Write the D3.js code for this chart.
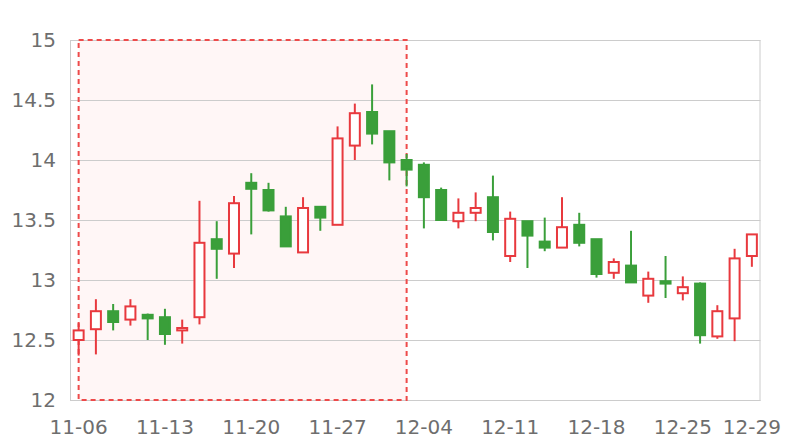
<!DOCTYPE html>
<html>
<head>
<meta charset="utf-8">
<script src="https://cdn.jsdelivr.net/npm/d3@7"></script>
<style>
  body { margin: 0; background: #fff; }
  svg { display: block; }
</style>
</head>
<body>
<svg id="chart" width="800" height="440"></svg>
<script>
const dates = ["11-06","11-07","11-08","11-09","11-10","11-13","11-14","11-15","11-16","11-17",
  "11-20","11-21","11-22","11-23","11-24","11-27","11-28","11-29","11-30","12-01",
  "12-04","12-05","12-06","12-07","12-08","12-11","12-12","12-13","12-14","12-15",
  "12-18","12-19","12-20","12-21","12-22","12-25","12-26","12-27","12-28","12-29"];
const openVals  = [12.50,12.59,12.74,12.67,12.71,12.69,12.58,12.69,13.34,13.22,
  13.81,13.75,13.53,13.23,13.61,13.46,14.12,14.40,14.24,14.00,
  13.96,13.75,13.49,13.56,13.69,13.20,13.49,13.32,13.27,13.46,
  13.34,13.06,13.12,12.87,12.99,12.89,12.97,12.53,12.68,13.20];
const closeVals = [12.58,12.74,12.65,12.78,12.68,12.55,12.60,13.31,13.26,13.64,
  13.76,13.58,13.28,13.60,13.52,14.18,14.39,14.22,13.98,13.92,
  13.69,13.50,13.56,13.60,13.40,13.51,13.37,13.27,13.44,13.31,
  13.05,13.15,12.98,13.01,12.97,12.94,12.54,12.74,13.18,13.38];
const highVals  = [12.64,12.84,12.80,12.84,12.72,12.76,12.67,13.66,13.49,13.70,
  13.89,13.81,13.61,13.69,13.61,14.28,14.47,14.63,14.24,14.05,
  13.98,13.77,13.68,13.73,13.87,13.57,13.49,13.52,13.69,13.56,
  13.34,13.18,13.41,13.07,13.20,13.03,12.98,12.79,13.26,13.38];
const lowVals   = [12.37,12.38,12.58,12.62,12.50,12.46,12.47,12.63,13.01,13.10,
  13.38,13.57,13.28,13.23,13.41,13.46,14.00,14.13,13.83,13.78,
  13.43,13.50,13.43,13.49,13.33,13.15,13.10,13.24,13.27,13.28,
  13.02,13.01,12.98,12.81,12.85,12.83,12.47,12.51,12.49,13.11];
const yTicks = [12, 12.5, 13, 13.5, 14, 14.5, 15];
const xTickLabels = ["11-06","11-13","11-20","11-27","12-04","12-11","12-18","12-25","12-29"];
const areaRange = ["11-06", "12-01"];

const data = dates.map((d, i) => ({date: d, open: openVals[i], close: closeVals[i], high: highVals[i], low: lowVals[i]}));

const svg = d3.select("#chart");
const pLeft = 70, pRight = 760.5, pTop = 40, pBottom = 400;
const RED = "#e8393e", GREEN = "#3a9f3a";

const x = d3.scaleBand().domain(dates).range([pLeft, pRight]).paddingInner(0).paddingOuter(0);
const y = d3.scaleLinear().domain([12, 15]).range([pBottom, pTop]);
const cx = d => x(d) + x.bandwidth() / 2;

// mark area
svg.append("rect")
  .attr("x", cx(areaRange[0])).attr("y", pTop)
  .attr("width", cx(areaRange[1]) - cx(areaRange[0])).attr("height", pBottom - pTop)
  .attr("fill", "#fff6f6");

// grid lines
svg.append("g").selectAll("line").data(yTicks).join("line")
  .attr("x1", pLeft).attr("x2", pRight)
  .attr("y1", d => Math.round(y(d)) + 0.5).attr("y2", d => Math.round(y(d)) + 0.5)
  .attr("stroke", "#cccccc").attr("stroke-width", 1);

// border
svg.append("rect")
  .attr("x", pLeft + 0.5).attr("y", pTop + 0.5)
  .attr("width", pRight - pLeft - 1).attr("height", pBottom - pTop)
  .attr("fill", "none").attr("stroke", "#cccccc").attr("stroke-width", 1);

// dashed area outline
svg.append("rect")
  .attr("x", cx(areaRange[0])).attr("y", pTop)
  .attr("width", cx(areaRange[1]) - cx(areaRange[0])).attr("height", pBottom - pTop)
  .attr("fill", "none").attr("stroke", "#ee4a4a").attr("stroke-width", 2)
  .attr("stroke-dasharray", "5,4");

// candles
const bodyW = 10;
const g = svg.append("g");
const c = g.selectAll("g.c").data(data).join("g").attr("class", "c");
c.append("line")
  .attr("x1", d => cx(d.date)).attr("x2", d => cx(d.date))
  .attr("y1", d => y(d.high)).attr("y2", d => y(d.low))
  .attr("stroke", d => d.close >= d.open ? RED : GREEN)
  .attr("stroke-width", 2);
c.append("rect")
  .attr("x", d => cx(d.date) - bodyW / 2)
  .attr("y", d => y(Math.max(d.open, d.close)))
  .attr("width", bodyW)
  .attr("height", d => Math.max(1, Math.abs(y(d.open) - y(d.close))))
  .attr("fill", d => d.close >= d.open ? "#ffffff" : GREEN)
  .attr("stroke", d => d.close >= d.open ? RED : GREEN)
  .attr("stroke-width", 2);

// y axis labels
const yAxis = d3.axisLeft(y).tickValues(yTicks).tickSize(0).tickPadding(14).tickFormat(d3.format("~g"));
const ya = svg.append("g").attr("transform", `translate(${pLeft},0)`).call(yAxis);
ya.select(".domain").remove();
ya.selectAll("text").attr("font-family", "DejaVu Sans").attr("font-size", 20).attr("fill", "#6e6e6e");

// x axis labels
const xAxis = d3.axisBottom(x).tickValues(xTickLabels).tickSize(0).tickPadding(20);
const xa = svg.append("g").attr("transform", `translate(0,${pBottom})`).call(xAxis);
xa.select(".domain").remove();
xa.selectAll("text").attr("font-family", "DejaVu Sans").attr("font-size", 20).attr("fill", "#6e6e6e");
</script>
</body>
</html>
